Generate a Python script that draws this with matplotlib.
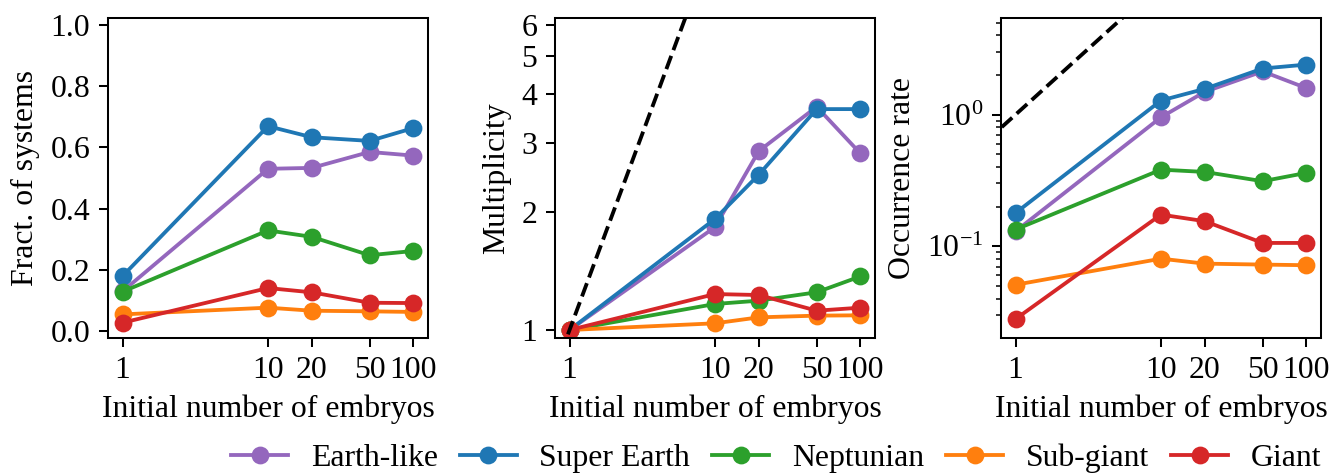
import matplotlib
matplotlib.use("Agg")
import matplotlib.pyplot as plt
import matplotlib.ticker as mticker
import numpy as np

plt.rcParams['font.family'] = ['Liberation Serif', 'DejaVu Serif']
plt.rcParams['mathtext.fontset'] = 'stix'
plt.rcParams['font.size'] = 12.5

# initial number of embryos
n_embryos = [1, 10, 20, 50, 100]
labels = ["Earth-like", "Super Earth", "Neptunian", "Sub-giant", "Giant"]
colors = ["tab:purple", "tab:blue", "tab:green", "tab:orange", "tab:red"]

# fraction of systems
frac_earth = [0.130, 0.530, 0.533, 0.585, 0.573]
frac_super = [0.180, 0.669, 0.633, 0.621, 0.663]
frac_nept = [0.129, 0.329, 0.308, 0.248, 0.262]
frac_subg = [0.055, 0.077, 0.067, 0.065, 0.063]
frac_giant = [0.028, 0.141, 0.127, 0.093, 0.092]

# multiplicity
mult_earth = [1.0, 1.83, 2.86, 3.71, 2.82]
mult_super = [1.0, 1.92, 2.49, 3.66, 3.66]
mult_nept = [1.0, 1.165, 1.188, 1.248, 1.37]
mult_subg = [1.0, 1.04, 1.077, 1.088, 1.09]
mult_giant = [1.0, 1.235, 1.228, 1.12, 1.14]

# occurrence rate
occ_earth = [0.130, 0.955, 1.49, 2.13, 1.59]
occ_super = [0.179, 1.28, 1.57, 2.24, 2.40]
occ_nept = [0.134, 0.382, 0.367, 0.312, 0.361]
occ_subg = [0.051, 0.0805, 0.0738, 0.0726, 0.0718]
occ_giant = [0.028, 0.174, 0.155, 0.106, 0.106]

frac = [frac_earth, frac_super, frac_nept, frac_subg, frac_giant]
mult = [mult_earth, mult_super, mult_nept, mult_subg, mult_giant]
occ = [occ_earth, occ_super, occ_nept, occ_subg, occ_giant]

W, H = 1341, 473
fig = plt.figure(figsize=(W / 183, H / 183), dpi=183)

lefts = [108, 555, 1001]
axes = [fig.add_axes([l / W, (H - 338) / H, 320 / W, 320 / H]) for l in lefts]

for ax, data in zip(axes, [frac, mult, occ]):
    for vals, lab, col in zip(data, labels, colors):
        ax.plot(n_embryos, vals, "-o", color=col, label=lab, lw=1.5, ms=6)
    ax.set_xscale("log")
    ax.set_xticks(n_embryos)
    ax.xaxis.set_major_formatter(mticker.FixedFormatter([str(n) for n in n_embryos]))
    ax.xaxis.set_minor_locator(mticker.NullLocator())
    ax.set_xlabel("Initial number of embryos")

# one-to-one reference line
xref = np.array([0.5, 200])
for ax in axes[1:]:
    xl = ax.get_xlim()
    ax.plot(xref, xref, "k--", lw=1.5)
    ax.set_xlim(xl)

axes[0].set_ylim(-0.022, 1.022)
axes[0].set_yticks([0.0, 0.2, 0.4, 0.6, 0.8, 1.0])
axes[0].yaxis.set_major_formatter(mticker.FormatStrFormatter("%.1f"))
axes[0].set_ylabel("Fract. of systems")

axes[1].set_yscale("log")
axes[1].set_ylim(0.954, 6.25)
axes[1].set_yticks([1, 2, 3, 4, 5, 6])
axes[1].yaxis.set_major_formatter(mticker.FixedFormatter(["1", "2", "3", "4", "5", "6"]))
axes[1].yaxis.set_minor_locator(mticker.NullLocator())
axes[1].set_ylabel("Multiplicity")

axes[2].set_yscale("log")
axes[2].set_ylim(0.0201, 5.42)
axes[2].set_ylabel("Occurrence rate")

handles, labs = axes[0].get_legend_handles_labels()
fig.legend(handles, labs, loc="lower center", bbox_to_anchor=(776 / W, -0.06),
           ncol=5, frameon=False, handlelength=1.8, handletextpad=0.7,
           columnspacing=0.7)

fig.savefig("out.png", dpi=183)
